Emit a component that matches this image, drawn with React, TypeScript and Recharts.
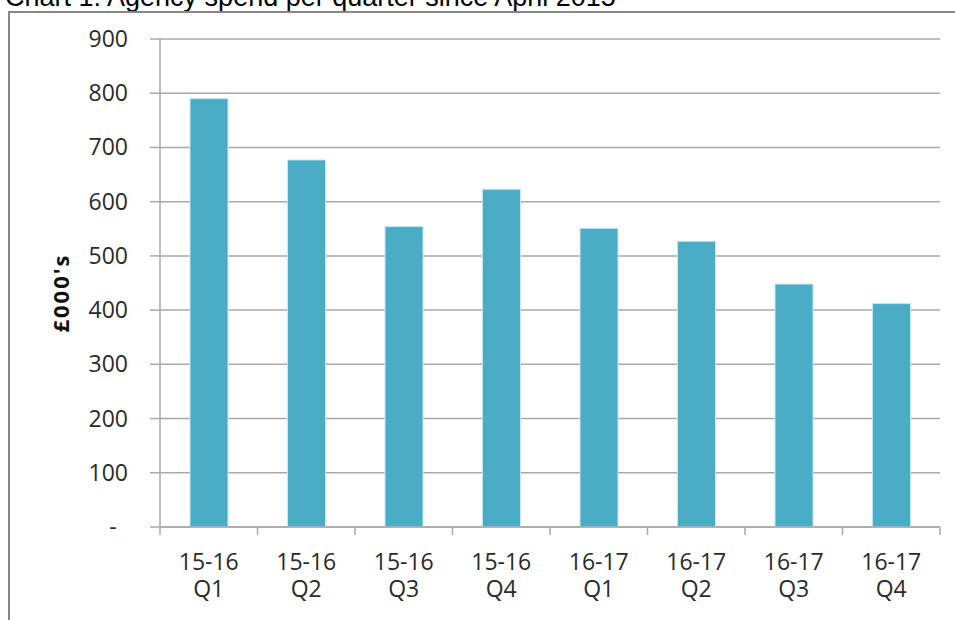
import React from 'react';
import { BarChart, Bar, XAxis, YAxis, CartesianGrid } from 'recharts';

const periods = ['15-16', '15-16', '15-16', '15-16', '16-17', '16-17', '16-17', '16-17'];
const quarters = ['Q1', 'Q2', 'Q3', 'Q4', 'Q1', 'Q2', 'Q3', 'Q4'];
const spend = [790, 677, 554, 623, 551, 527, 448, 412];
const yTicks = [0, 100, 200, 300, 400, 500, 600, 700, 800, 900];

const data = periods.map((p, i) => ({ key: `${p} ${quarters[i]}`, period: p, quarter: quarters[i], spend: spend[i] }));

const FONT = '"Open Sans", sans-serif';
const TEXT = '#2a2a2a';
const GRID = '#a9a9a9';

const XTick = (props: any) => {
  const { x, y, payload, visibleTicksCount } = props;
  const idx = payload.index;
  const half = payload.offset || 0;
  const d = data[idx] || data.find((r) => r.key === payload.value);
  const isLast = idx === (visibleTicksCount ?? data.length) - 1;
  return (
    <g>
      <line x1={x - half} x2={x - half} y1={y} y2={y + 8} stroke={GRID} strokeWidth={1.5} />
      {isLast && <line x1={x + half} x2={x + half} y1={y} y2={y + 8} stroke={GRID} strokeWidth={1.5} />}
      <text x={x} y={y} textAnchor="middle" fill={TEXT} fontSize={23} fontFamily={FONT}>
        <tspan x={x} dy={43}>{d ? d.period : ''}</tspan>
        <tspan x={x} dy={27}>{d ? d.quarter : ''}</tspan>
      </text>
    </g>
  );
};

const YTick = (props: any) => {
  const { x, y, payload } = props;
  if (payload.value === 0) {
    return (
      <text x={x - 15} y={y} dy="0.35em" textAnchor="middle" fill={TEXT} fontSize={23} fontFamily={FONT}>-</text>
    );
  }
  return (
    <text x={x} y={y} dy="0.35em" textAnchor="end" fill={TEXT} fontSize={23} fontFamily={FONT}>
      {payload.value}
    </text>
  );
};

const YLabel = (props: any) => {
  const vb = props.viewBox || {};
  const cx = (vb.x || 0) + 60;
  const cy = (vb.y || 0) + (vb.height || 0) / 2 + 10;
  return (
    <text
      x={cx}
      y={cy}
      transform={`rotate(-90, ${cx}, ${cy})`}
      textAnchor="middle"
      dominantBaseline="central"
      fill="#111"
      fontSize={22}
      fontWeight="bold"
      fontFamily={FONT}
      letterSpacing={2}
    >
      £000's
    </text>
  );
};

export default function App() {
  return (
    <div style={{ position: 'absolute', left: 0, top: 0, width: 955, height: 620, overflow: 'hidden', background: '#fff' }}>
      <div
        style={{
          position: 'absolute',
          left: 5,
          top: -16,
          fontFamily: '"Liberation Sans", Arial, sans-serif',
          fontSize: 27,
          lineHeight: '27px',
          color: '#000',
          whiteSpace: 'nowrap',
        }}
      >
        Chart 1: Agency spend per quarter since April 2015
      </div>
      <div
        style={{
          position: 'absolute',
          left: 8,
          top: 11,
          width: 960,
          height: 620,
          borderLeft: '2px solid #888',
          borderTop: '2px solid #888',
        }}
      />
      <div style={{ position: 'absolute', left: 0, top: 0 }}>
        <BarChart width={955} height={620} data={data} margin={{ top: 39, right: 15, left: 0, bottom: 0 }}>
          <CartesianGrid vertical={false} stroke={GRID} strokeWidth={1.5} />
          <XAxis
            dataKey="key"
            height={93}
            tickSize={0}
            tickMargin={0}
            axisLine={{ stroke: GRID, strokeWidth: 1.5 }}
            tickLine={false}
            interval={0}
            tick={<XTick />}
          />
          <YAxis
            width={160}
            domain={[0, 900]}
            ticks={yTicks}
            interval={0}
            tickSize={10}
            tickMargin={22}
            tick={<YTick />}
            tickLine={{ stroke: GRID, strokeWidth: 1.5 }}
            axisLine={{ stroke: GRID, strokeWidth: 1.5 }}
            label={<YLabel />}
          />
          <Bar
            dataKey="spend"
            fill="#4BACC6"
            stroke="#c6e6ee"
            strokeWidth={1}
            barSize={38}
            isAnimationActive={false}
          />
        </BarChart>
      </div>
    </div>
  );
}
